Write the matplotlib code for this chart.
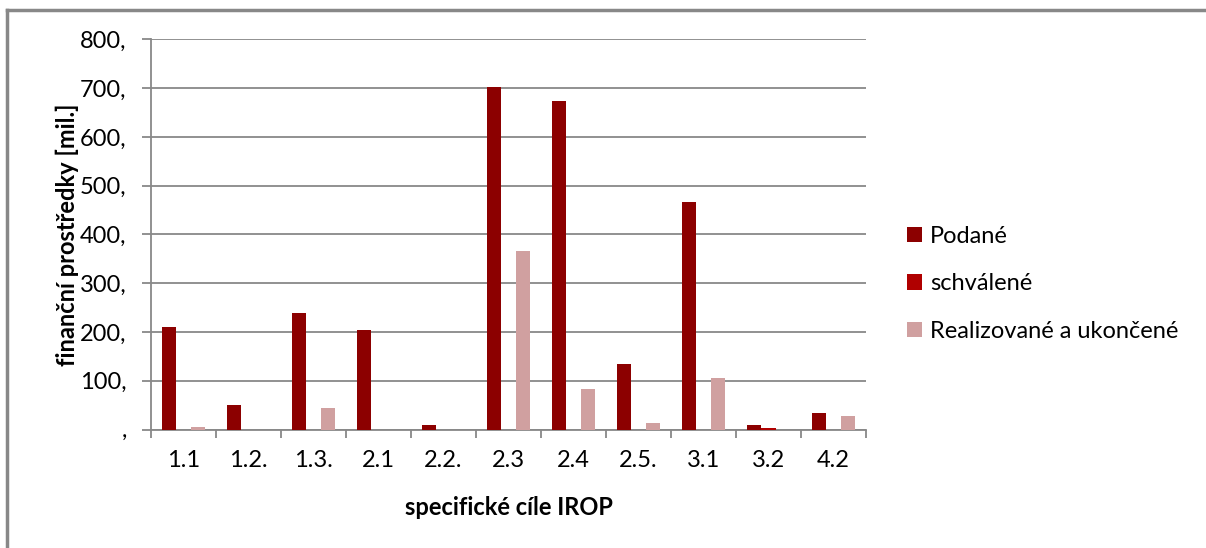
import matplotlib
matplotlib.use('Agg')
import matplotlib.pyplot as plt
import numpy as np
from matplotlib.lines import Line2D
from matplotlib.patches import Patch

# data
categories = ['1.1', '1.2.', '1.3.', '2.1', '2.2.', '2.3', '2.4', '2.5.', '3.1', '3.2', '4.2']
podane = [210, 50, 238, 204, 10, 702, 674, 135, 466, 9, 34]
schvalene = [0, 0, 0, 0, 0, 0, 0, 0, 0, 3, 0]
realizovane = [5, 0, 44, 0, 0, 366, 83, 13, 106, 0, 28]
series_names = ['Podané', 'schválené', 'Realizované a ukončené']
y_ticks = [0, 100, 200, 300, 400, 500, 600, 700, 800]
y_ticklabels = [',', '100,', '200,', '300,', '400,', '500,', '600,', '700,', '800,']

colors = ['#8c0000', '#b00000', '#d0a0a0']
grey = '#888888'
fs = 17

plt.rcParams['font.family'] = ['Lato', 'DejaVu Sans']

fig = plt.figure(figsize=(12.06, 5.48), dpi=100)
ax = fig.add_axes([151 / 1206, 1 - 429.5 / 548, 715 / 1206, 390.2 / 548])

x = np.arange(len(categories))
w = 0.222
for i, (vals, name) in enumerate(zip([podane, schvalene, realizovane], series_names)):
    ax.bar(x + (i - 1) * w, vals, w, color=colors[i], label=name, zorder=3)

ax.set_xlim(-0.5, len(categories) - 0.5)
ax.set_ylim(0, 800)

# y axis
ax.set_yticks(y_ticks)
ax.set_yticklabels(y_ticklabels, fontsize=fs)
ax.yaxis.grid(True, color=grey, linewidth=1.3, zorder=0)
ax.tick_params(axis='y', length=6.5, width=1.3, color=grey, pad=11)

# x axis: tick marks on category borders, labels in between
ax.set_xticks(np.arange(len(categories) + 1) - 0.5)
ax.set_xticklabels([])
ax.tick_params(axis='x', which='major', length=6, width=1.3, color=grey)
ax.set_xticks(x, minor=True)
ax.set_xticklabels(categories, minor=True, fontsize=fs)
ax.tick_params(axis='x', which='minor', length=0, pad=15)

for s in ['top', 'right']:
    ax.spines[s].set_visible(False)
for s in ['left', 'bottom']:
    ax.spines[s].set_color(grey)
    ax.spines[s].set_linewidth(1.3)

ax.set_ylabel('finanční prostředky [mil.]', fontsize=fs, fontweight='bold', labelpad=1)
ax.set_xlabel('specifické cíle IROP', fontsize=fs, fontweight='bold', labelpad=18)

handles = [Patch(facecolor=c) for c in colors]
fig.legend(handles, series_names, loc='upper left', bbox_to_anchor=(907 / 1206, 1 - 226 / 548),
           frameon=False, fontsize=fs, handlelength=0.62, handleheight=0.62,
           handletextpad=0.35, labelspacing=1.12, borderpad=0, borderaxespad=0)

# outer chart frame (only top and left edges are visible)
fig.add_artist(Line2D([7 / 1206, 7 / 1206], [0, 1 - 10 / 548], color=grey, linewidth=2.5))
fig.add_artist(Line2D([7 / 1206, 1], [1 - 10 / 548, 1 - 10 / 548], color=grey, linewidth=2.5))

fig.savefig('out.png', dpi=100, facecolor='white')
